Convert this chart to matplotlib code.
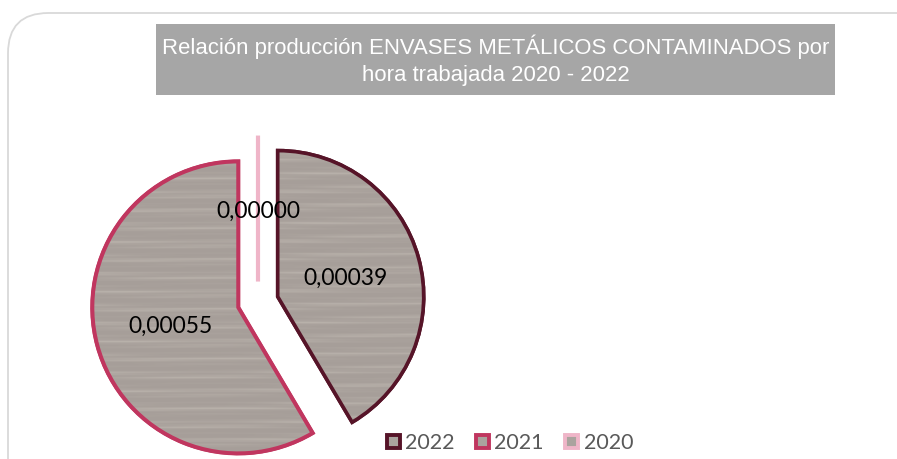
import numpy as np
import matplotlib
matplotlib.use("Agg")
import matplotlib.pyplot as plt
from matplotlib.patches import FancyBboxPatch, Rectangle, Patch, PathPatch

# ---- data ----
years = ["2022", "2021", "2020"]
values = [0.00039, 0.00055, 0.00000]
value_labels = ["0,00039", "0,00055", "0,00000"]
edge_colors = ["#561428", "#c0365f", "#efb5c8"]
title = "Relación producción ENVASES METÁLICOS CONTAMINADOS por\nhora trabajada 2020 - 2022"

W, H = 897, 459
fig = plt.figure(figsize=(W / 100, H / 100), dpi=100)
fig.patch.set_facecolor("white")

# outer rounded frame (extends past right/bottom edges)
frame = FancyBboxPatch((8 / W, -0.2), 1.2, (H - 13) / H + 0.2,
                       boxstyle="round,pad=0,rounding_size=0.045",
                       transform=fig.transFigure, facecolor="none",
                       edgecolor="#d9d9d9", linewidth=1.3, mutation_aspect=W / H,
                       zorder=-5)
fig.patches.append(frame)

# pie axes: center at (258, 302) px, radius 146 px
cx, cy, R = 258, 302, 146
ax = fig.add_axes([0, 0, 1, 1])
ax.set_zorder(2)
ax.patch.set_alpha(0)

wedges, texts = ax.pie(values, labels=value_labels, startangle=90, counterclock=False,
                       explode=[0.14, 0.14, 0.14], radius=1.0, labeldistance=0.48,
                       wedgeprops=dict(linewidth=2.6, facecolor="#aaa39e"),
                       textprops=dict(fontsize=16.5, color="black", family="Lato"),
                       frame=False)
for w, ec in zip(wedges, edge_colors):
    w.set_edgecolor(ec)
wedges[2].set_linewidth(3.0)
for t in texts:
    t.set_ha("center")
    t.set_va("center")
    t.set_zorder(10)

# subtle wood-like streak texture clipped to the wedges
ny, nx = 600, 300
yy = np.linspace(0, 1, ny)[:, None]
xx = np.linspace(0, 1, nx)[None, :]
streak = (0.45 * np.sin(2 * np.pi * (yy * 23 + 0.25 * np.sin(2 * np.pi * xx * 0.8)))
          + 0.35 * np.sin(2 * np.pi * (yy * 61 + 0.15 * np.sin(2 * np.pi * xx * 1.4 + 1.0)))
          + 0.20 * np.sin(2 * np.pi * (yy * 137 + xx * 0.4)))
base = np.array([166, 158, 153]) / 255.0
light = np.array([188, 181, 174]) / 255.0
s = np.clip((streak + 1) / 2, 0, 1) ** 3
img = base[None, None, :] * (1 - s[..., None]) + light[None, None, :] * s[..., None]
for w in wedges[:2]:
    im = ax.imshow(img, extent=(-1.3, 1.3, -1.3, 1.3), origin="lower",
                   zorder=w.get_zorder() + 0.5, aspect="auto", interpolation="bilinear")
    im.set_clip_path(w)
    outline = PathPatch(w.get_path(), transform=w.get_transform(),
                        facecolor="none", edgecolor=w.get_edgecolor(),
                        linewidth=w.get_linewidth() + (0.3 if w is wedges[1] else 0),
                        zorder=w.get_zorder() + 1)
    ax.add_patch(outline)
ax.set_xlim(-cx / R, (W - cx) / R)
ax.set_ylim(-(H - cy) / R, cy / R)
ax.set_aspect("auto")
ax.axis("off")

# title box
fig.patches.append(Rectangle((156 / W, 1 - 95 / H), 679 / W, 71 / H,
                             transform=fig.transFigure, facecolor="#a6a6a6",
                             edgecolor="none", zorder=1))
fig.text(495.5 / W, 1 - 60 / H, title, ha="center", va="center", color="white",
         fontsize=15.9, family="Liberation Sans", linespacing=1.4, zorder=3)

# legend
handles = [Patch(facecolor="#aaa39e", edgecolor=ec, linewidth=2.8) for ec in edge_colors]
leg = fig.legend(handles, years, loc="center", bbox_to_anchor=(510 / W, 1 - 443 / H),
                 ncol=3, frameon=False, handlelength=0.6, handleheight=0.6,
                 handletextpad=0.25, columnspacing=1.0, prop=dict(family="Lato", size=15.5))
for t in leg.get_texts():
    t.set_color("#595959")

fig.savefig("out.png", dpi=100)
